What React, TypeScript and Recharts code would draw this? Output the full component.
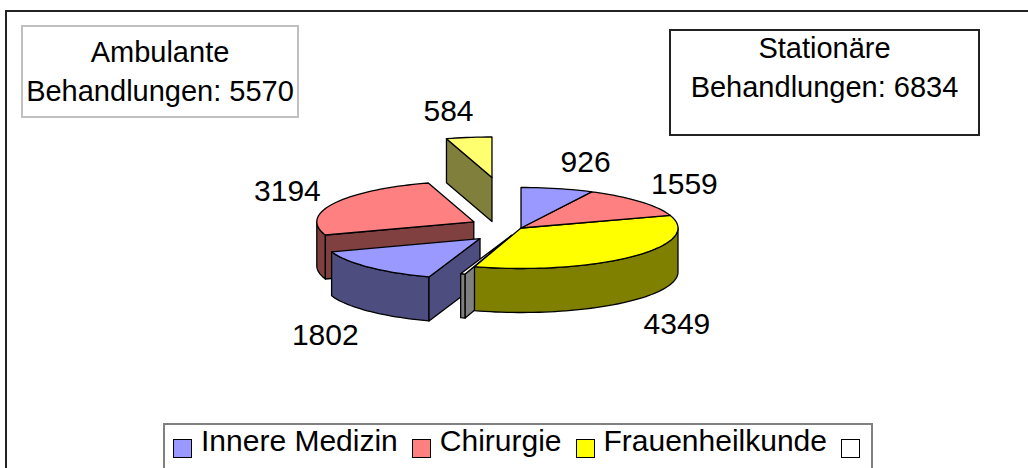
import React from 'react';
import { PieChart, Pie } from 'recharts';

// categories of the legend (the 4th one is the empty gap entry)
const categories = ['Innere Medizin', 'Chirurgie', 'Frauenheilkunde', ''];
const ambulant = [1802, 3194, 584];
const stationaer = [926, 1559, 4349];
const gapValue = 60;
const totalAmbulant = 5570;
const totalStationaer = 6834;

// pie table, counterclockwise from 12 o'clock (this is also the drawing order)
const slices = [
  ...[2, 1, 0].map((c) => ({ name: categories[c], cat: c, group: 'amb', value: ambulant[c] })),
  { name: categories[3], cat: 3, group: 'gap', value: gapValue },
  ...[2, 1, 0].map((c) => ({ name: categories[c], cat: c, group: 'stat', value: stationaer[c] })),
];

const TOP = ['#9999FF', '#FF8080', '#FFFF00', '#FFFFFF'];
const SIDE = ['#4D4D80', '#804040', '#808000', '#808080'];
const EXPLODE_AMB = [58, 53, 198];

const K = 0.258; // vertical squash of the tilted pie
const DEPTH = 44;
const RAD = Math.PI / 180;
const FONT = '"Liberation Sans", Arial, sans-serif';

const explodeOf = (s: any) => (s.group === 'amb' ? EXPLODE_AMB[s.cat] : s.group === 'gap' ? 30 : 0);

const topColor = (s: any) => (s.group === 'amb' && s.cat === 2 ? '#FFFF70' : TOP[s.cat]);
const sideColor = (s: any) => (s.group === 'amb' && s.cat === 2 ? '#80803C' : SIDE[s.cat]);

function origin(p: any) {
  const s = slices[p.index];
  const e = explodeOf(s);
  return {
    s,
    ox: p.cx + e * Math.cos(p.midAngle * RAD),
    oy: p.cy - e * Math.sin(p.midAngle * RAD) * K,
  };
}

function arcPts(ox: number, oy: number, r: number, a1: number, a2: number, dz: number) {
  const pts: string[] = [];
  const n = Math.max(2, Math.ceil(Math.abs(a2 - a1) / 2));
  for (let i = 0; i <= n; i++) {
    const a = (a1 + ((a2 - a1) * i) / n) * RAD;
    pts.push(`${(ox + r * Math.cos(a)).toFixed(2)},${(oy - r * Math.sin(a) * K + dz).toFixed(2)}`);
  }
  return pts;
}

const renderSlice = (p: any) => {
  const { ox, oy, s } = origin(p);
  const r = p.outerRadius;
  const { startAngle: a0, endAngle: a1 } = p;
  const side = sideColor(s);
  const parts: React.ReactNode[] = [];

  // outer wall (front half only)
  const lo = Math.max(a0, 180);
  const hi = Math.min(a1, 360);
  if (hi > lo) {
    const pts = [...arcPts(ox, oy, r, lo, hi, 0), ...arcPts(ox, oy, r, hi, lo, DEPTH)];
    parts.push(<polygon key="w" points={pts.join(' ')} fill={side} stroke="#000" strokeWidth={1.3} strokeLinejoin="round" />);
  }

  // cut faces of pulled-out slices
  if (explodeOf(s) > 0) {
    const face = (a: number, key: string) => {
      const [rx, ry] = [ox + r * Math.cos(a * RAD), oy - r * Math.sin(a * RAD) * K];
      const pts = `${ox},${oy} ${rx},${ry} ${rx},${ry + DEPTH} ${ox},${oy + DEPTH}`;
      parts.push(<polygon key={key} points={pts} fill={side} stroke="#000" strokeWidth={1.3} strokeLinejoin="round" />);
    };
    if (Math.cos(a0 * RAD) > 0.001) face(a0, 'fs');
    if (Math.cos(a1 * RAD) < -0.001) face(a1, 'fe');
  }

  // top face
  const top = [`${ox},${oy}`, ...arcPts(ox, oy, r, a0, a1, 0)];
  parts.push(<polygon key="t" points={top.join(' ')} fill={topColor(s)} stroke="#000" strokeWidth={1.3} strokeLinejoin="round" />);

  return <g key={`slice-${p.index}`}>{parts}</g>;
};

const renderValue = (p: any) => {
  const { ox, oy, s } = origin(p);
  if (s.group === 'gap') return null;
  const cs = Math.cos(p.midAngle * RAD);
  const sn = Math.sin(p.midAngle * RAD);
  const halfW = String(p.value).length * 8.3;
  const x = ox + 172 * cs + Math.sign(cs) * halfW * Math.min(1, Math.abs(cs) * 5);
  const y = oy - 68 * sn + (sn < 0 ? DEPTH + 4 : 0);
  return (
    <text key={`v-${p.index}`} x={x} y={y} textAnchor="middle" dominantBaseline="central"
      fontFamily={FONT} fontSize={30} fill="#000">
      {p.value}
    </text>
  );
};

const boxText: React.CSSProperties = {
  position: 'absolute', background: '#fff', textAlign: 'center', fontFamily: FONT,
  fontSize: 29, lineHeight: '39px', color: '#000', boxSizing: 'border-box', whiteSpace: 'nowrap',
};

export default function App() {
  return (
    <div style={{ position: 'absolute', left: 0, top: 0, width: 1028, height: 468, overflow: 'hidden', background: '#fff' }}>
      <div style={{ position: 'absolute', left: 5, top: 10, width: 1200, height: 700, border: '2px solid #222' }} />
      <div style={{ position: 'absolute', left: 0, top: 0 }}>
        <PieChart width={1028} height={468} margin={{ top: 0, right: 0, bottom: 0, left: 0 }}>
          <Pie data={slices} dataKey="value" nameKey="name" cx={521} cy={228} outerRadius={157}
            startAngle={90} endAngle={450} fill="none" stroke="none" labelLine={false}
            label={renderSlice} isAnimationActive={false} />
          <Pie data={slices} dataKey="value" nameKey="name" cx={521} cy={228} outerRadius={157}
            startAngle={90} endAngle={450} fill="none" stroke="none" labelLine={false}
            label={renderValue} isAnimationActive={false} />
        </PieChart>
      </div>
      <div style={{ ...boxText, left: 21, top: 25, width: 278, height: 93, border: '2px solid #C0C0C0' }}>
        <div style={{ position: 'relative', top: 6 }}>Ambulante<br />Behandlungen: {totalAmbulant}</div>
      </div>
      <div style={{ ...boxText, left: 669, top: 29, width: 311, height: 107, border: '2px solid #222' }}>
        <div style={{ position: 'relative', top: -2 }}>Stationäre<br />Behandlungen: {totalStationaer}</div>
      </div>
      <div style={{ position: 'absolute', left: 163, top: 423, width: 710, height: 80, border: '2px solid #808080',
        boxSizing: 'border-box', background: '#fff', display: 'flex', alignItems: 'flex-start', paddingLeft: 8, paddingTop: 1,
        fontFamily: FONT, fontSize: 30, color: '#000', whiteSpace: 'nowrap' }}>
        {categories.map((c, i) => (
          <div key={i} style={{ display: 'flex', alignItems: 'flex-start', marginRight: 14, flexShrink: 0 }}>
            <div style={{ width: 19, height: 19, marginTop: 13, flexShrink: 0, boxSizing: 'border-box', border: '1.5px solid #000', background: TOP[i], marginRight: c ? 9 : 0 }} />
            {c && <span style={{ lineHeight: '30px' }}>{c}</span>}
          </div>
        ))}
      </div>
    </div>
  );
}
